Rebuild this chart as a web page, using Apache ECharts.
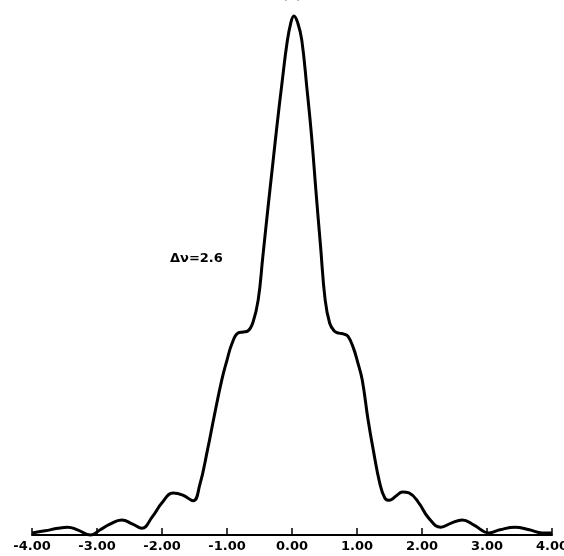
<!DOCTYPE html>
<html>
<head>
<meta charset="utf-8">
<script src="https://cdn.jsdelivr.net/npm/echarts@6/dist/echarts.min.js"></script>
<style>
  html, body { margin: 0; padding: 0; background: #fff; }
  #chart { width: 564px; height: 556px; }
</style>
</head>
<body>
<div id="chart"></div>
<script>
// Frequency offset (x) and relative line intensity (peak = 100)
const offsets = [
  -4.00, -3.80, -3.60, -3.45, -3.30, -3.10, -2.95, -2.80, -2.62, -2.45,
  -2.31, -2.15, -2.00, -1.83, -1.68, -1.52, -1.42, -1.30, -1.20, -1.08,
  -1.00, -0.92, -0.83, -0.75, -0.68, -0.60, -0.52, -0.45, -0.37, -0.30,
  -0.23, -0.15, -0.08, -0.02, 0.03, 0.09, 0.15, 0.23, 0.30, 0.37,
  0.44, 0.51, 0.58, 0.65, 0.72, 0.80, 0.86, 0.94, 1.01, 1.08,
  1.17, 1.25, 1.35, 1.43, 1.50, 1.60, 1.70, 1.80, 1.95, 2.10,
  2.29, 2.45, 2.62, 2.80, 3.03, 3.20, 3.43, 3.65, 3.85, 4.00
];
const intensity = [
  0.4, 0.8, 1.3, 1.5, 1.0, 0.0, 1.0, 2.1, 2.9, 2.1,
  1.3, 3.5, 6.2, 8.1, 7.7, 6.6, 9.6, 16.4, 22.7, 29.9,
  33.7, 37.0, 38.9, 39.1, 39.3, 41.0, 45.3, 53.5, 63.0, 71.0,
  79.0, 87.5, 94.5, 98.6, 100, 98.6, 95.4, 86.0, 77.0, 66.0,
  55.5, 45.3, 40.8, 39.3, 38.9, 38.7, 38.3, 36.2, 33.3, 29.9,
  22.2, 16.4, 10.0, 7.1, 6.7, 7.5, 8.3, 8.1, 6.2, 3.3,
  1.5, 2.3, 2.9, 1.9, 0.4, 1.0, 1.5, 1.0, 0.4, 0.4
];
const xTicks = [-4, -3, -2, -1, 0, 1, 2, 3, 4];
const panelLabel = '(a)';
const widthLabel = 'Δν=2.6';

const chart = echarts.init(document.getElementById('chart'), null, { renderer: 'canvas' });
const font = '"DejaVu Sans", sans-serif';

chart.setOption({
  backgroundColor: '#ffffff',
  animation: false,
  grid: { left: 32, right: 12, top: 16, bottom: 21, containLabel: false, outerBoundsMode: 'none' },
  xAxis: {
    type: 'value',
    min: xTicks[0],
    max: xTicks[xTicks.length - 1],
    interval: 1,
    axisLine: { show: true, onZero: false, lineStyle: { color: '#000', width: 2 } },
    axisTick: { show: true, inside: true, length: 7, lineStyle: { color: '#000', width: 1.5 } },
    axisLabel: {
      color: '#000', fontFamily: font, fontWeight: 'bold', fontSize: 13, margin: 5,
      hideOverlap: false,
      formatter: v => v.toFixed(2)
    },
    splitLine: { show: false }
  },
  yAxis: {
    type: 'value', min: 0, max: 100, show: false
  },
  series: [{
    type: 'line',
    data: offsets.map((x, i) => [x, intensity[i]]),
    showSymbol: false,
    smooth: 0.45,
    lineStyle: { color: '#000', width: 3 },
    clip: false
  }],
  graphic: [
    {
      type: 'text', left: 170, top: 252,
      style: { text: widthLabel, font: 'bold 13px ' + font, fill: '#000' }
    },
    {
      type: 'text', x: 292, y: -5,
      style: { text: panelLabel, font: '14px ' + font, fill: '#000', textAlign: 'center', textVerticalAlign: 'middle' }
    }
  ]
});
</script>
</body>
</html>
